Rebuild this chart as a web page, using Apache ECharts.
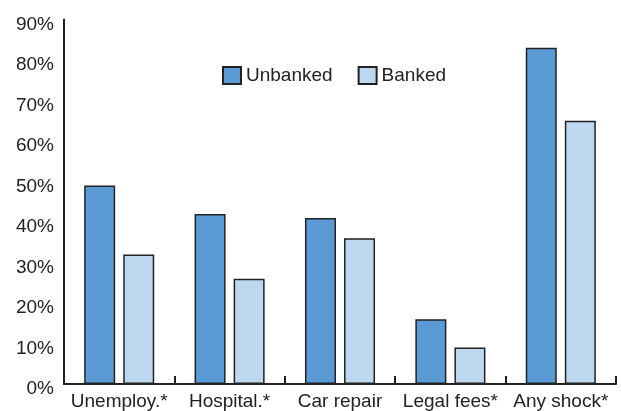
<!DOCTYPE html>
<html>
<head>
<meta charset="utf-8">
<script src="https://cdn.jsdelivr.net/npm/echarts@6/dist/echarts.min.js"></script>
<style>
  html, body { margin: 0; padding: 0; background: #fff; }
  #chart { width: 621px; height: 411px; }
</style>
</head>
<body>
<div id="chart"></div>
<script>
// Share of households hit by each financial shock
const categories = ['Unemploy.*', 'Hospital.*', 'Car repair', 'Legal fees*', 'Any shock*'];
const unbanked = [49, 42, 41, 16, 83];
const banked = [32, 26, 36, 9, 65];
const yTicks = [0, 10, 20, 30, 40, 50, 60, 70, 80, 90];

const FONT = '"Liberation Sans", Arial, Helvetica, sans-serif';
const INK = '#222222';

const chart = echarts.init(document.getElementById('chart'), null, { renderer: 'canvas' });

chart.setOption({
  animation: false,
  backgroundColor: '#ffffff',
  textStyle: { fontFamily: FONT },
  grid: {
    left: 64, right: 5, top: 19.5, bottom: 27,
    containLabel: false,
    outerBoundsMode: 'none'
  },
  legend: {
    left: 217,
    top: 61,
    icon: 'rect',
    itemWidth: 18,
    itemHeight: 17,
    itemGap: 25,
    textStyle: { fontFamily: FONT, fontSize: 19, color: INK },
    data: ['Unbanked', 'Banked']
  },
  xAxis: {
    type: 'category',
    data: categories,
    axisLine: { show: true, lineStyle: { color: INK, width: 2 } },
    axisTick: { show: true, inside: true, length: 8, lineStyle: { color: INK, width: 2 } },
    axisLabel: { fontFamily: FONT, fontSize: 19, color: INK, margin: 8, interval: 0 },
    splitLine: { show: false }
  },
  yAxis: {
    type: 'value',
    min: yTicks[0],
    max: yTicks[yTicks.length - 1],
    interval: 10,
    axisLine: { show: true, lineStyle: { color: INK, width: 2 } },
    axisTick: { show: false },
    splitLine: { show: false },
    axisLabel: {
      fontFamily: FONT, fontSize: 19, color: INK, margin: 10,
      verticalAlign: 'top',
      lineHeight: 10,
      formatter: v => v + '%'
    }
  },
  series: [
    {
      name: 'Unbanked',
      type: 'bar',
      data: unbanked,
      barWidth: 31,
      barGap: '26%',
      itemStyle: { color: '#5B9BD5', borderColor: INK, borderWidth: 1.5 }
    },
    {
      name: 'Banked',
      type: 'bar',
      data: banked,
      barWidth: 31,
      barGap: '26%',
      itemStyle: { color: '#BDD7EE', borderColor: INK, borderWidth: 1.5 }
    }
  ]
});
</script>
</body>
</html>
